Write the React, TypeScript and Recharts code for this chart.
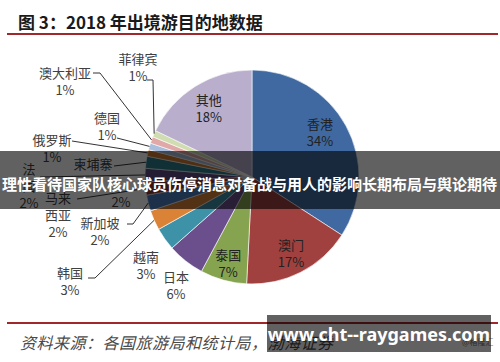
import React from 'react';
import { PieChart, Pie, Cell } from 'recharts';

// 2018 年出境游目的地占比 (%), 顺时针从 12 点方向开始
const categories = ['香港', '澳门', '泰国', '日本', '越南', '韩国', '新加坡', '马来西亚', '法国', '柬埔寨', '俄罗斯', '德国', '澳大利亚', '菲律宾', '其他'];
const shares = [34.0, 16.6, 7.0, 5.6, 3.4, 3.0, 2.4, 2.0, 2.0, 1.8, 1.0, 1.0, 1.0, 1.0, 17.8];
const sliceColors = ['#3F69A0', '#A0413F', '#86A44F', '#6B4F8D', '#3E92A8', '#DA8236', '#4E7FC0', '#8C3836', '#5E4A84', '#2F7F8F', '#D07A30', '#A9BEDD', '#E0A9A8', '#CFDDB0', '#B9AECB'];

const data = categories.map((name, i) => ({ name, value: shares[i] }));

const CX = 252;
const CY = 177;
const R = 107;
const RAD = Math.PI / 180;
const LINE_H = 17;

type Layout = {
    r?: number;
    x?: number;
    y?: number;
    lines?: string[];
    pctAt?: [number, number];
    leader?: [number, number][];
    inside?: boolean;
};

// where each label sits (layout only, not data)
const labelLayout: Layout[] = [
    { x: 320, y: 132, inside: true },
    { r: 0.8, inside: true },
    { r: 0.83, inside: true },
    { x: 176, y: 285 },
    { x: 146, y: 265 },
    { x: 70, y: 281, leader: [[88, 278], [95, 278]] },
    { x: 100, y: 231, leader: [[127, 224], [133, 224]] },
    { x: 58, y: 214, lines: ['马来', '西亚'], leader: [[77, 199]] },
    { x: 29, y: 185, lines: ['法', '国'], leader: [[40, 177]] },
    { x: 93, y: 163, pctAt: [121, 201], leader: [[114, 166]] },
    { x: 52, y: 148, leader: [[72, 141]] },
    { x: 107, y: 126, leader: [[117, 138]] },
    { x: 65, y: 81, leader: [[93, 73], [100, 73]] },
    { x: 138, y: 67, leader: [[147, 80], [153, 80]] },
    { r: 0.76, inside: true },
];

const polar = (midAngle: number, r: number): [number, number] => [
    CX + r * Math.cos(-midAngle * RAD),
    CY + r * Math.sin(-midAngle * RAD),
];

const renderLabel = (props: any) => {
    const { midAngle, index, value, name } = props;
    const lay = labelLayout[index];
    const pct = `${Math.round(value)}%`;
    const nameLines = lay.lines || [name];
    const all = lay.pctAt ? nameLines : [...nameLines, pct];
    let bx: number, by: number;
    if (lay.r !== undefined) {
        [bx, by] = polar(midAngle, R * lay.r);
    } else {
        bx = lay.x as number;
        by = lay.y as number;
    }
    const top = by - ((all.length - 1) * LINE_H) / 2;
    const fill = lay.inside ? '#222' : '#404040';
    const edge = polar(midAngle, R);
    return (
        <g key={`lab-${index}`}>
            {lay.leader && (
                <polyline
                    points={[...lay.leader, edge].map((p) => p.join(',')).join(' ')}
                    fill="none"
                    stroke="#333"
                    strokeWidth={1}
                />
            )}
            {all.map((t, i) => (
                <text
                    key={i}
                    x={bx}
                    y={top + i * LINE_H}
                    textAnchor="middle"
                    dominantBaseline="central"
                    fontSize={13}
                    fill={fill}
                    fontFamily="'Noto Sans CJK SC', sans-serif"
                >
                    {t}
                </text>
            ))}
            {lay.pctAt && (
                <text
                    x={lay.pctAt[0]}
                    y={lay.pctAt[1]}
                    textAnchor="middle"
                    dominantBaseline="central"
                    fontSize={13}
                    fill={fill}
                    fontFamily="'Noto Sans CJK SC', sans-serif"
                >
                    {pct}
                </text>
            )}
        </g>
    );
};

const cjk = "'Noto Sans CJK SC', sans-serif";

export default function App() {
    return (
        <div style={{ position: 'absolute', left: 0, top: 0, width: 500, height: 362, background: '#fff', overflow: 'hidden' }}>
            <div style={{ position: 'absolute', left: 18, top: 10, fontFamily: cjk, fontWeight: 700, fontSize: 17, color: '#1a1a1a', lineHeight: '24px', whiteSpace: 'nowrap' }}>
                图 3：2018 年出境游目的地数据
            </div>
            <div style={{ position: 'absolute', left: 7, top: 33, width: 491, height: 2, background: '#A0282A' }} />

            <div style={{ position: 'absolute', left: 0, top: 0 }}>
                <PieChart width={500} height={362} margin={{ top: 0, right: 0, bottom: 0, left: 0 }}>
                    <Pie
                        data={data}
                        dataKey="value"
                        nameKey="name"
                        cx={CX}
                        cy={CY}
                        outerRadius={R}
                        startAngle={90}
                        endAngle={-270}
                        stroke="#fff"
                        strokeWidth={0.6}
                        label={renderLabel}
                        labelLine={false}
                        isAnimationActive={false}
                    >
                        {data.map((d, i) => (
                            <Cell key={d.name} fill={sliceColors[i]} />
                        ))}
                    </Pie>
                </PieChart>
            </div>

            <div style={{ position: 'absolute', left: 0, top: 151, width: 500, height: 58, background: 'rgba(0,0,0,0.62)' }}>
                <div style={{ position: 'absolute', left: 2, top: 22, fontFamily: cjk, fontWeight: 700, fontSize: 15, lineHeight: '22px', color: '#fff', whiteSpace: 'nowrap' }}>
                    理性看待国家队核心球员伤停消息对备战与用人的影响长期布局与舆论期待
                </div>
            </div>

            <div style={{ position: 'absolute', left: 7, top: 322, width: 491, height: 2, background: '#A0282A' }} />
            <div style={{ position: 'absolute', left: 20, top: 331, fontFamily: cjk, fontStyle: 'italic', fontSize: 16, letterSpacing: 0.5, lineHeight: '22px', color: '#4a4a4a', whiteSpace: 'nowrap' }}>
                资料来源：各国旅游局和统计局，渤海证券
            </div>
            <div style={{ position: 'absolute', left: 462, top: 336, fontFamily: cjk, fontSize: 8, lineHeight: '12px', color: '#777', whiteSpace: 'nowrap' }}>
                @格隆汇
            </div>

            <div style={{ position: 'absolute', left: 267, top: 315, width: 224, height: 37, background: 'rgba(0,0,0,0.62)', display: 'flex', alignItems: 'center', justifyContent: 'center' }}>
                <span style={{ fontFamily: "'Noto Sans', sans-serif", fontWeight: 700, fontSize: 18, color: '#fff', whiteSpace: 'nowrap' }}>
                    www.cht--raygames.com
                </span>
            </div>
        </div>
    );
}
